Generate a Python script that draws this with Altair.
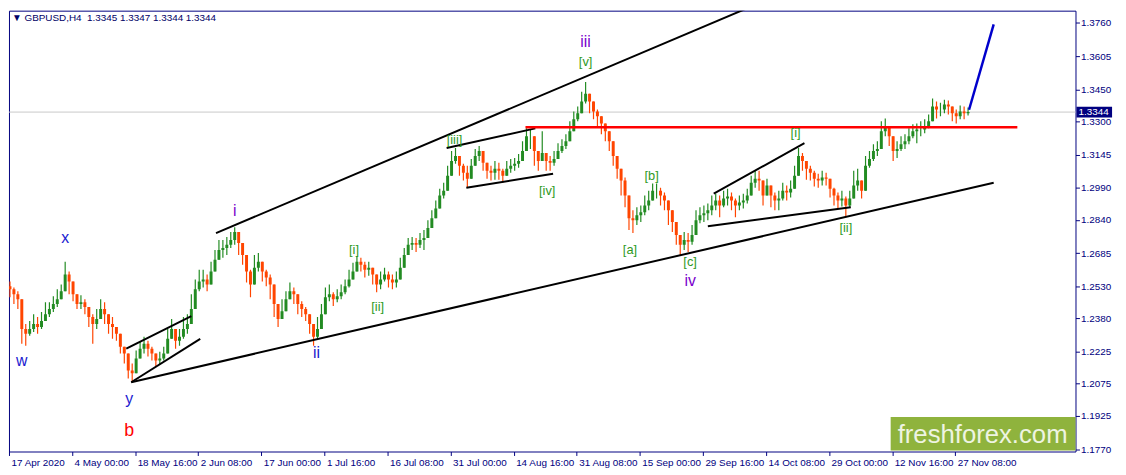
import altair as alt
import pandas as pd

# ---------------- data (GBPUSD H4, one candle per 4 H4 bars) ----------------
closes = [
    1.2516, 1.2493, 1.2470, 1.2331, 1.2308, 1.2331, 1.2354, 1.2340, 1.2368, 1.2400,
    1.2424, 1.2447, 1.2470, 1.2507, 1.2585, 1.2553, 1.2493, 1.2447, 1.2456, 1.2433,
    1.2387, 1.2354, 1.2377, 1.2424, 1.2400, 1.2354, 1.2340, 1.2308, 1.2248, 1.2216,
    1.2137, 1.2124, 1.2193, 1.2239, 1.2262, 1.2239, 1.2216, 1.2184, 1.2193, 1.2216,
    1.2285, 1.2331, 1.2276, 1.2294, 1.2331, 1.2354, 1.2424, 1.2516, 1.2553, 1.2562,
    1.2539, 1.2599, 1.2654, 1.2700, 1.2709, 1.2724, 1.2747, 1.2784, 1.2733, 1.2677,
    1.2599, 1.2539, 1.2617, 1.2645, 1.2599, 1.2571, 1.2539, 1.2447, 1.2377, 1.2414,
    1.2470, 1.2507, 1.2493, 1.2447, 1.2424, 1.2400, 1.2354, 1.2294, 1.2331, 1.2400,
    1.2479, 1.2493, 1.2470, 1.2484, 1.2502, 1.2530, 1.2562, 1.2599, 1.2645, 1.2631,
    1.2608, 1.2617, 1.2585, 1.2539, 1.2562, 1.2585, 1.2562, 1.2548, 1.2562, 1.2617,
    1.2677, 1.2724, 1.2733, 1.2724, 1.2747, 1.2756, 1.2802, 1.2848, 1.2894, 1.2954,
    1.2977, 1.3047, 1.3116, 1.3139, 1.3093, 1.3061, 1.3033, 1.3093, 1.3139, 1.3162,
    1.3107, 1.3070, 1.3061, 1.3079, 1.3070, 1.3047, 1.3079, 1.3093, 1.3103, 1.3116,
    1.3162, 1.3231, 1.3231, 1.3162, 1.3116, 1.3153, 1.3116, 1.3107, 1.3125, 1.3162,
    1.3185, 1.3208, 1.3254, 1.3310, 1.3338, 1.3393, 1.3430, 1.3393, 1.3347, 1.3324,
    1.3291, 1.3254, 1.3208, 1.3139, 1.3079, 1.3024, 1.2954, 1.2848, 1.2839, 1.2862,
    1.2876, 1.2908, 1.2931, 1.2977, 1.2977, 1.2954, 1.2931, 1.2885, 1.2830, 1.2770,
    1.2724, 1.2747, 1.2738, 1.2770, 1.2839, 1.2862, 1.2871, 1.2885, 1.2908, 1.2931,
    1.2908, 1.2940, 1.2950, 1.2931, 1.2908, 1.2922, 1.2931, 1.2954, 1.3014, 1.3033,
    1.3024, 1.2954, 1.3001, 1.2954, 1.2931, 1.2940, 1.2977, 1.2968, 1.2986, 1.3047,
    1.3139, 1.3116, 1.3079, 1.3061, 1.3033, 1.3024, 1.3038, 1.3033, 1.2986, 1.2954,
    1.2931, 1.2940, 1.2908, 1.2940, 1.3001, 1.3024, 1.2977, 1.3093, 1.3125, 1.3162,
    1.3171, 1.3254, 1.3278, 1.3231, 1.3162, 1.3171, 1.3194, 1.3208, 1.3231, 1.3254,
    1.3263, 1.3263, 1.3278, 1.3301, 1.3370, 1.3356, 1.3356, 1.3379, 1.3370, 1.3338,
    1.3324, 1.3347, 1.3338, 1.3344,
]
highs = [
    1.2553, 1.2525, 1.2507, 1.2470, 1.2354, 1.2368, 1.2400, 1.2387, 1.2410, 1.2456,
    1.2456, 1.2484, 1.2516, 1.2539, 1.2645, 1.2599, 1.2539, 1.2493, 1.2488, 1.2470,
    1.2424, 1.2400, 1.2424, 1.2470, 1.2456, 1.2400, 1.2387, 1.2340, 1.2285, 1.2248,
    1.2193, 1.2170, 1.2230, 1.2271, 1.2294, 1.2276, 1.2248, 1.2216, 1.2225, 1.2248,
    1.2331, 1.2377, 1.2322, 1.2331, 1.2387, 1.2400, 1.2493, 1.2562, 1.2608, 1.2608,
    1.2585, 1.2645, 1.2700, 1.2747, 1.2747, 1.2761, 1.2784, 1.2806, 1.2770, 1.2724,
    1.2654, 1.2608, 1.2677, 1.2686, 1.2631, 1.2608, 1.2585, 1.2493, 1.2424, 1.2470,
    1.2507, 1.2548, 1.2525, 1.2488, 1.2460, 1.2433, 1.2387, 1.2331, 1.2387, 1.2447,
    1.2525, 1.2539, 1.2502, 1.2516, 1.2539, 1.2562, 1.2608, 1.2640, 1.2672, 1.2663,
    1.2645, 1.2645, 1.2617, 1.2571, 1.2599, 1.2617, 1.2599, 1.2585, 1.2599, 1.2663,
    1.2709, 1.2756, 1.2761, 1.2756, 1.2779, 1.2793, 1.2839, 1.2885, 1.2931, 1.2986,
    1.3014, 1.3093, 1.3162, 1.3176, 1.3130, 1.3103, 1.3093, 1.3125, 1.3171, 1.3185,
    1.3139, 1.3107, 1.3093, 1.3116, 1.3107, 1.3079, 1.3116, 1.3125, 1.3130, 1.3148,
    1.3208, 1.3268, 1.3263, 1.3208, 1.3162, 1.3254, 1.3153, 1.3139, 1.3162, 1.3199,
    1.3217, 1.3240, 1.3301, 1.3347, 1.3370, 1.3439, 1.3485, 1.3425, 1.3393, 1.3356,
    1.3324, 1.3291, 1.3254, 1.3185, 1.3125, 1.3070, 1.3038, 1.2908, 1.2885, 1.2899,
    1.2908, 1.2954, 1.2977, 1.3010, 1.3010, 1.2991, 1.2968, 1.2931, 1.2876, 1.2816,
    1.2761, 1.2784, 1.2779, 1.2816, 1.2885, 1.2899, 1.2908, 1.2917, 1.2954, 1.2963,
    1.2954, 1.2977, 1.2986, 1.2968, 1.2940, 1.2954, 1.2963, 1.2986, 1.3047, 1.3070,
    1.3070, 1.3001, 1.3033, 1.2991, 1.2968, 1.2977, 1.3014, 1.3001, 1.3024, 1.3093,
    1.3176, 1.3153, 1.3116, 1.3093, 1.3070, 1.3056, 1.3070, 1.3061, 1.3024, 1.2991,
    1.2968, 1.2977, 1.2950, 1.2977, 1.3070, 1.3079, 1.3024, 1.3139, 1.3162, 1.3194,
    1.3208, 1.3301, 1.3314, 1.3268, 1.3208, 1.3208, 1.3231, 1.3240, 1.3268, 1.3287,
    1.3291, 1.3301, 1.3310, 1.3333, 1.3407, 1.3393, 1.3388, 1.3402, 1.3398, 1.3370,
    1.3356, 1.3375, 1.3370, 1.3365,
]
lows = [
    1.2479, 1.2447, 1.2424, 1.2262, 1.2253, 1.2299, 1.2317, 1.2308, 1.2331, 1.2368,
    1.2387, 1.2410, 1.2433, 1.2470, 1.2516, 1.2493, 1.2460, 1.2424, 1.2424, 1.2400,
    1.2340, 1.2262, 1.2331, 1.2377, 1.2354, 1.2308, 1.2285, 1.2276, 1.2216, 1.2170,
    1.2100, 1.2086, 1.2124, 1.2193, 1.2216, 1.2202, 1.2184, 1.2156, 1.2165, 1.2184,
    1.2239, 1.2285, 1.2239, 1.2253, 1.2285, 1.2308, 1.2368, 1.2470, 1.2507, 1.2525,
    1.2507, 1.2539, 1.2608, 1.2654, 1.2663, 1.2677, 1.2709, 1.2724, 1.2677, 1.2631,
    1.2548, 1.2479, 1.2562, 1.2599, 1.2553, 1.2530, 1.2470, 1.2387, 1.2340, 1.2377,
    1.2424, 1.2470, 1.2447, 1.2400, 1.2387, 1.2368, 1.2308, 1.2253, 1.2285, 1.2354,
    1.2433, 1.2460, 1.2438, 1.2456, 1.2470, 1.2493, 1.2525, 1.2562, 1.2608, 1.2599,
    1.2571, 1.2580, 1.2539, 1.2502, 1.2516, 1.2553, 1.2525, 1.2516, 1.2525, 1.2571,
    1.2631, 1.2691, 1.2700, 1.2691, 1.2709, 1.2700, 1.2765, 1.2811, 1.2862, 1.2908,
    1.2940, 1.3001, 1.3070, 1.3103, 1.3047, 1.3024, 1.2991, 1.3047, 1.3103, 1.3116,
    1.3070, 1.3033, 1.3024, 1.3028, 1.3028, 1.3014, 1.3047, 1.3061, 1.3070, 1.3084,
    1.3116, 1.3185, 1.3171, 1.3093, 1.3070, 1.3116, 1.3070, 1.3070, 1.3093, 1.3130,
    1.3153, 1.3171, 1.3208, 1.3268, 1.3301, 1.3347, 1.3384, 1.3338, 1.3310, 1.3278,
    1.3240, 1.3208, 1.3162, 1.3093, 1.3033, 1.2954, 1.2899, 1.2793, 1.2779, 1.2816,
    1.2830, 1.2862, 1.2885, 1.2931, 1.2940, 1.2908, 1.2885, 1.2816, 1.2784, 1.2724,
    1.2677, 1.2700, 1.2691, 1.2724, 1.2784, 1.2825, 1.2830, 1.2839, 1.2862, 1.2885,
    1.2853, 1.2899, 1.2908, 1.2885, 1.2853, 1.2885, 1.2894, 1.2917, 1.2968, 1.2991,
    1.2977, 1.2908, 1.2954, 1.2899, 1.2885, 1.2885, 1.2931, 1.2931, 1.2945, 1.3001,
    1.3093, 1.3070, 1.3028, 1.3024, 1.2996, 1.2991, 1.3001, 1.3001, 1.2945, 1.2908,
    1.2894, 1.2903, 1.2853, 1.2899, 1.2954, 1.2977, 1.2940, 1.3047, 1.3084, 1.3116,
    1.3139, 1.3185, 1.3231, 1.3185, 1.3116, 1.3130, 1.3162, 1.3171, 1.3194, 1.3222,
    1.3199, 1.3231, 1.3245, 1.3268, 1.3324, 1.3314, 1.3324, 1.3338, 1.3333, 1.3301,
    1.3291, 1.3310, 1.3310, 1.3328,
]
first_open = 1.2530
BARS_PER_CANDLE = 4

date_labels = ["17 Apr 2020", "4 May 00:00", "18 May 16:00", "2 Jun 08:00", "17 Jun 00:00",
               "1 Jul 16:00", "16 Jul 08:00", "31 Jul 00:00", "14 Aug 16:00", "31 Aug 08:00",
               "15 Sep 00:00", "29 Sep 16:00", "14 Oct 08:00", "29 Oct 00:00", "12 Nov 16:00",
               "27 Nov 08:00"]
BARS_PER_LABEL = 64
price_ticks = [1.1770, 1.1925, 1.2075, 1.2225, 1.2380, 1.2530, 1.2685, 1.2840,
               1.2990, 1.3145, 1.3300, 1.3450, 1.3605, 1.3760]
last_price = 1.3344
title_text = "\u25bc GBPUSD,H4\u00a0 1.3345 1.3347 1.3344 1.3344"

# trend lines: (bar1, price1, bar2, price2)
black_lines = [
    (210, 1.2779, 755, 1.3841),
    (124, 1.2082, 999, 1.3014),
    (119, 1.2239, 185, 1.2391),
    (124, 1.2082, 194, 1.2285),
    (444, 1.3176, 534, 1.3268),
    (464, 1.2991, 552, 1.3056),
    (715, 1.2963, 807, 1.3199),
    (709, 1.2811, 854, 1.2899),
]
red_lines = [(524, 1.3273, 1023, 1.3273)]
blue_lines = [(974, 1.3355, 999, 1.3754)]

# wave labels: (bar, price at baseline, text, kind)
wave_labels = [
    (57, 1.2733, "x", "blue"), (13, 1.2156, "w", "blue"), (122, 1.1980, "y", "blue"),
    (122, 1.1833, "b", "red"), (229, 1.2857, "i", "purple"), (312, 1.2193, "ii", "blue"),
    (585, 1.3647, "iii", "purple"), (691, 1.2530, "iv", "purple"),
    (350, 1.2682, "[i]", "green"), (374, 1.2414, "[ii]", "green"), (452, 1.3194, "[iii]", "green"),
    (546, 1.2959, "[iv]", "green"), (585, 1.3559, "[v]", "green"), (630, 1.2682, "[a]", "green"),
    (652, 1.3028, "[b]", "green"), (691, 1.2627, "[c]", "green"), (798, 1.3227, "[i]", "green"),
    (849, 1.2784, "[ii]", "green"),
]

# ---------------- styles ----------------
NAVY = "#000080"
FONT = "Liberation Sans"
UP, DOWN = "#228b22", "#ff4500"
KIND_COLOR = {"blue": "#2020d0", "purple": "#7a00cc", "red": "#ff0000", "green": "#2f9a1e"}
KIND_SIZE = {"blue": 16, "purple": 16, "red": 18, "green": 13}
W, H = 1079, 446
X_DOMAIN = [0, 1082]
Y_DOMAIN = [1.17585, 1.38177]

# ---------------- tables ----------------
opens = [first_open] + closes[:-1]
rows = []
for i, (o, c, h, l) in enumerate(zip(opens, closes, highs, lows)):
    rows.append(dict(bar=1 + BARS_PER_CANDLE * i, open=o, close=c,
                     high=max(h, o, c), low=min(l, o, c),
                     clr=UP if c >= o else DOWN))
candles = pd.DataFrame(rows)

def seg_df(segs):
    return pd.DataFrame([dict(x1=a, y1=b, x2=c, y2=d) for a, b, c, d in segs])

labels_df = pd.DataFrame([dict(bar=b, price=p, text=t, clr=KIND_COLOR[k], size=KIND_SIZE[k])
                          for b, p, t, k in wave_labels])

xscale = alt.Scale(domain=X_DOMAIN, nice=False, zero=False)
yscale = alt.Scale(domain=Y_DOMAIN, nice=False, zero=False)

label_expr = "[" + ",".join("'%s'" % s for s in date_labels) + "][round(datum.value / %d)]" % BARS_PER_LABEL
x_axis = alt.Axis(values=[i * BARS_PER_LABEL for i in range(len(date_labels))], labelExpr=label_expr,
                  title=None, orient="bottom", domain=False, grid=False, tickSize=4, tickColor=NAVY,
                  labelColor=NAVY, labelFont=FONT, labelFontSize=10, labelAlign="left",
                  labelBaseline="top", labelPadding=2, labelOffset=2, labelOverlap=False, labelFlush=False)
y_axis = alt.Axis(values=price_ticks, format=".4f", orient="right", title=None, domain=False, grid=False,
                  tickSize=4, tickColor=NAVY, labelColor=NAVY, labelFont=FONT, labelFontSize=10,
                  labelPadding=1, labelOverlap=False, labelFlush=False, labelBaseline="middle")

def X(field):
    return alt.X(field, scale=xscale, axis=x_axis)

def Y(field):
    return alt.Y(field, scale=yscale, axis=y_axis)

price_df = pd.DataFrame({"p": [last_price], "t": ["%.4f" % last_price]})

grey = alt.Chart(price_df).mark_rule(color="#c8c8c8", strokeWidth=1).encode(y=Y("p:Q"))

wick_layer = alt.Chart(candles).mark_rule(strokeWidth=1.2, clip=True).encode(
    x=X("bar:Q"), y=Y("low:Q"), y2="high:Q", color=alt.Color("clr:N", scale=None))
body_layer = alt.Chart(candles).mark_rule(strokeWidth=3, clip=True).encode(
    x=X("bar:Q"), y=Y("open:Q"), y2="close:Q", color=alt.Color("clr:N", scale=None))

def line_layer(segs, color, width):
    return alt.Chart(seg_df(segs)).mark_rule(color=color, strokeWidth=width, clip=True).encode(
        x=X("x1:Q"), y=Y("y1:Q"), x2="x2:Q", y2="y2:Q")

text_layer = alt.Chart(labels_df).mark_text(font=FONT, align="center", baseline="alphabetic").encode(
    x=X("bar:Q"), y=Y("price:Q"), text="text:N",
    color=alt.Color("clr:N", scale=None), size=alt.Size("size:Q", scale=None))

wm_df = pd.DataFrame({"t": ["freshforex.com"]})
wm_box = alt.Chart(wm_df).mark_rect(color="#8fb33d").encode(
    x=alt.value(892), x2=alt.value(W), y=alt.value(411), y2=alt.value(H - 1))
wm_text = alt.Chart(wm_df).mark_text(font=FONT, fontSize=26, color="#eef4e2", align="center",
                                     baseline="middle").encode(
    x=alt.value(985), y=alt.value(429), text="t:N")

title_df = pd.DataFrame({"t": [title_text]})
title_layer = alt.Chart(title_df).mark_text(font=FONT, fontSize=10, color="#000066", align="left",
                                            baseline="middle").encode(
    x=alt.value(3), y=alt.value(7), text="t:N")

price_box = alt.Chart(price_df).mark_rule(color=NAVY, strokeWidth=11).encode(
    y=Y("p:Q"), x=alt.value(W + 1), x2=alt.value(W + 37))
price_text = alt.Chart(price_df).mark_text(font=FONT, fontSize=10, color="white", align="left",
                                           baseline="middle").encode(
    y=Y("p:Q"), x=alt.value(W + 3), text="t:N")

chart = alt.layer(
    grey, wick_layer, body_layer,
    line_layer(black_lines, "#000000", 2),
    line_layer(red_lines, "#ff0000", 2.5),
    line_layer(blue_lines, "#0000cc", 2.5),
    text_layer, wm_box, wm_text, title_layer, price_box, price_text,
).properties(width=W, height=H, padding=0).configure_view(
    stroke=NAVY, strokeWidth=1).configure_axis(labelOverlap=False)

chart.save("out.html", embed_options={"renderer": "svg", "actions": False})
